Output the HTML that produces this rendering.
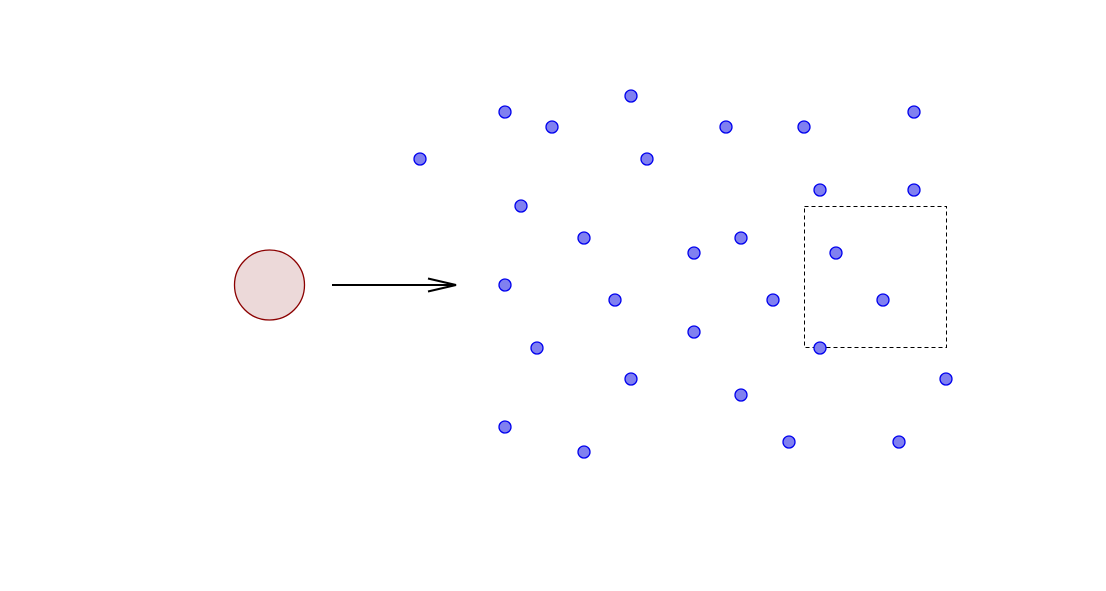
<!DOCTYPE html>
<html><head><style>html,body{margin:0;padding:0;background:#fff;}</style></head>
<body>
<svg width="1106" height="586" xmlns="http://www.w3.org/2000/svg">
<rect width="1106" height="586" fill="#fff"/>
<circle cx="269.5" cy="285" r="35" fill="#ecd9d9" stroke="#8b0000" stroke-width="1.3"/>
<line x1="332" y1="285" x2="456" y2="285" stroke="#000" stroke-width="2"/>
<polyline points="428,278.5 456,285 428,291.5" fill="none" stroke="#000" stroke-width="2"/>
<rect x="804.5" y="206.5" width="142" height="141" fill="none" stroke="#000" stroke-width="1" stroke-dasharray="4,3"/>
<g fill="#8080f0" stroke="#0000ee" stroke-width="1.3">
<circle cx="420" cy="159" r="6"/>
<circle cx="505" cy="112" r="6"/>
<circle cx="552" cy="127" r="6"/>
<circle cx="631" cy="96" r="6"/>
<circle cx="647" cy="159" r="6"/>
<circle cx="726" cy="127" r="6"/>
<circle cx="804" cy="127" r="6"/>
<circle cx="914" cy="112" r="6"/>
<circle cx="820" cy="190" r="6"/>
<circle cx="914" cy="190" r="6"/>
<circle cx="521" cy="206" r="6"/>
<circle cx="584" cy="238" r="6"/>
<circle cx="694" cy="253" r="6"/>
<circle cx="741" cy="238" r="6"/>
<circle cx="836" cy="253" r="6"/>
<circle cx="505" cy="285" r="6"/>
<circle cx="615" cy="300" r="6"/>
<circle cx="773" cy="300" r="6"/>
<circle cx="883" cy="300" r="6"/>
<circle cx="694" cy="332" r="6"/>
<circle cx="537" cy="348" r="6"/>
<circle cx="820" cy="348" r="6"/>
<circle cx="631" cy="379" r="6"/>
<circle cx="946" cy="379" r="6"/>
<circle cx="741" cy="395" r="6"/>
<circle cx="505" cy="427" r="6"/>
<circle cx="584" cy="452" r="6"/>
<circle cx="789" cy="442" r="6"/>
<circle cx="899" cy="442" r="6"/>
</g>
</svg>
</body></html>
